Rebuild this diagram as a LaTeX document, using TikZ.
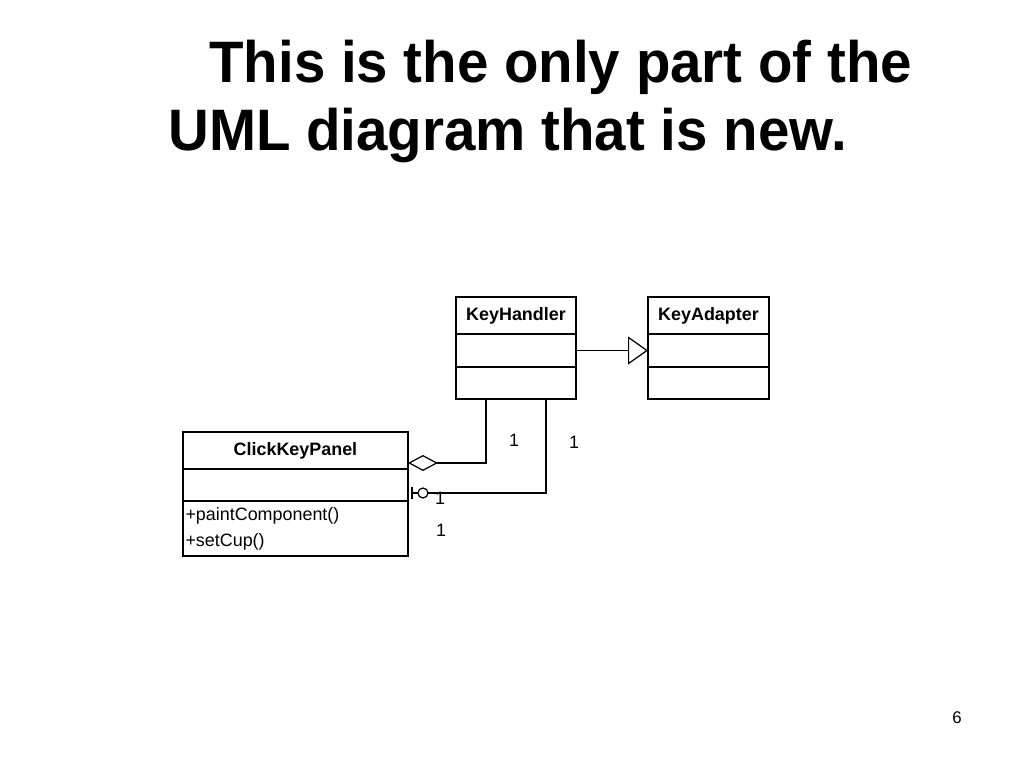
\documentclass[tikz,border=0pt]{standalone}
\usepackage{fontspec}
\setmainfont{Liberation Sans}
\newfontfamily\headfont[FakeStretch=0.965]{Liberation Sans}
\usepackage{tikz}
\usetikzlibrary{positioning,arrows.meta}

\tikzset{
  part/.style={draw, line width=1.1pt, inner sep=0pt, outer sep=0pt, font=\fontsize{10.2}{12}\selectfont},
  namepart/.style={part, font=\fontsize{10.2}{12}\selectfont\bfseries},
  link/.style={line width=0.7pt},
  gen/.style={link, -{Triangle[open, length=0.4cm, width=0.56cm]}},
  aggr/.style={link, -{Diamond[open, length=0.6cm, width=0.32cm]}},
  mult/.style={font=\fontsize{10.2}{12}\selectfont, inner sep=0pt},
  heading/.style={anchor=base west, inner sep=0pt, font=\fontsize{33.3}{40}\headfont\bfseries}
}

\begin{document}
\begin{tikzpicture}[x=0.02cm, y=-0.02cm]
\useasboundingbox[fill=white] (0,0) rectangle (1024,768);

% heading
\node[heading] (title1) at (209,82) {This is the only part of the};
\node[heading] (title2) at (168,150) {UML diagram that is new.};

% KeyHandler
\node[namepart, anchor=north west, minimum width=2.4cm, minimum height=0.74cm] (khname) at (456,297) {KeyHandler};
\node[part, below=0pt of khname, minimum width=2.4cm, minimum height=0.66cm] (khattr) {};
\node[part, below=0pt of khattr, minimum width=2.4cm, minimum height=0.64cm] (khops) {};

% KeyAdapter
\node[namepart, anchor=north west, minimum width=2.42cm, minimum height=0.74cm] (kaname) at (648,297) {KeyAdapter};
\node[part, below=0pt of kaname, minimum width=2.42cm, minimum height=0.66cm] (kaattr) {};
\node[part, below=0pt of kaattr, minimum width=2.42cm, minimum height=0.64cm] (kaops) {};

% ClickKeyPanel
\node[namepart, anchor=north west, minimum width=4.5cm, minimum height=0.74cm] (ckpname) at (183,432) {ClickKeyPanel};
\node[part, below=0pt of ckpname, minimum width=4.5cm, minimum height=0.64cm] (ckpattr) {};
\node[part, below=0pt of ckpattr, minimum height=1.1cm, text width=4.4cm, inner xsep=0.05cm, align=left,
      font=\fontsize{10.2}{14.7}\selectfont] (ckpops) {+paintComponent()\\+setCup()};

% connectors
\draw[gen] (khattr.east) -- (kaattr.west);
\draw[aggr] ([xshift=-0.6cm]khops.south) |- ([yshift=-0.25cm]ckpname.east);
\coordinate (zo) at ([xshift=0.08cm, yshift=-0.16cm]ckpattr.east);
\draw[link] ([xshift=0.6cm]khops.south) |- (zo);
% zero-or-one end
\draw[link] (zo) ++(0,-6) -- ++(0,12);
\draw[link, fill=white] ([xshift=0.22cm]zo) circle[radius=0.1cm];

% multiplicities
\node[mult] (m1) at (514,440) {1};
\node[mult] (m2) at (574,442) {1};
\node[mult] (m3) at (440,498) {1};
\node[mult] (m4) at (441,530) {1};

% slide number
\node[inner sep=0pt, font=\fontsize{9.6}{11}\selectfont] (pagenum) at (957,718) {6};
\end{tikzpicture}
\end{document}
